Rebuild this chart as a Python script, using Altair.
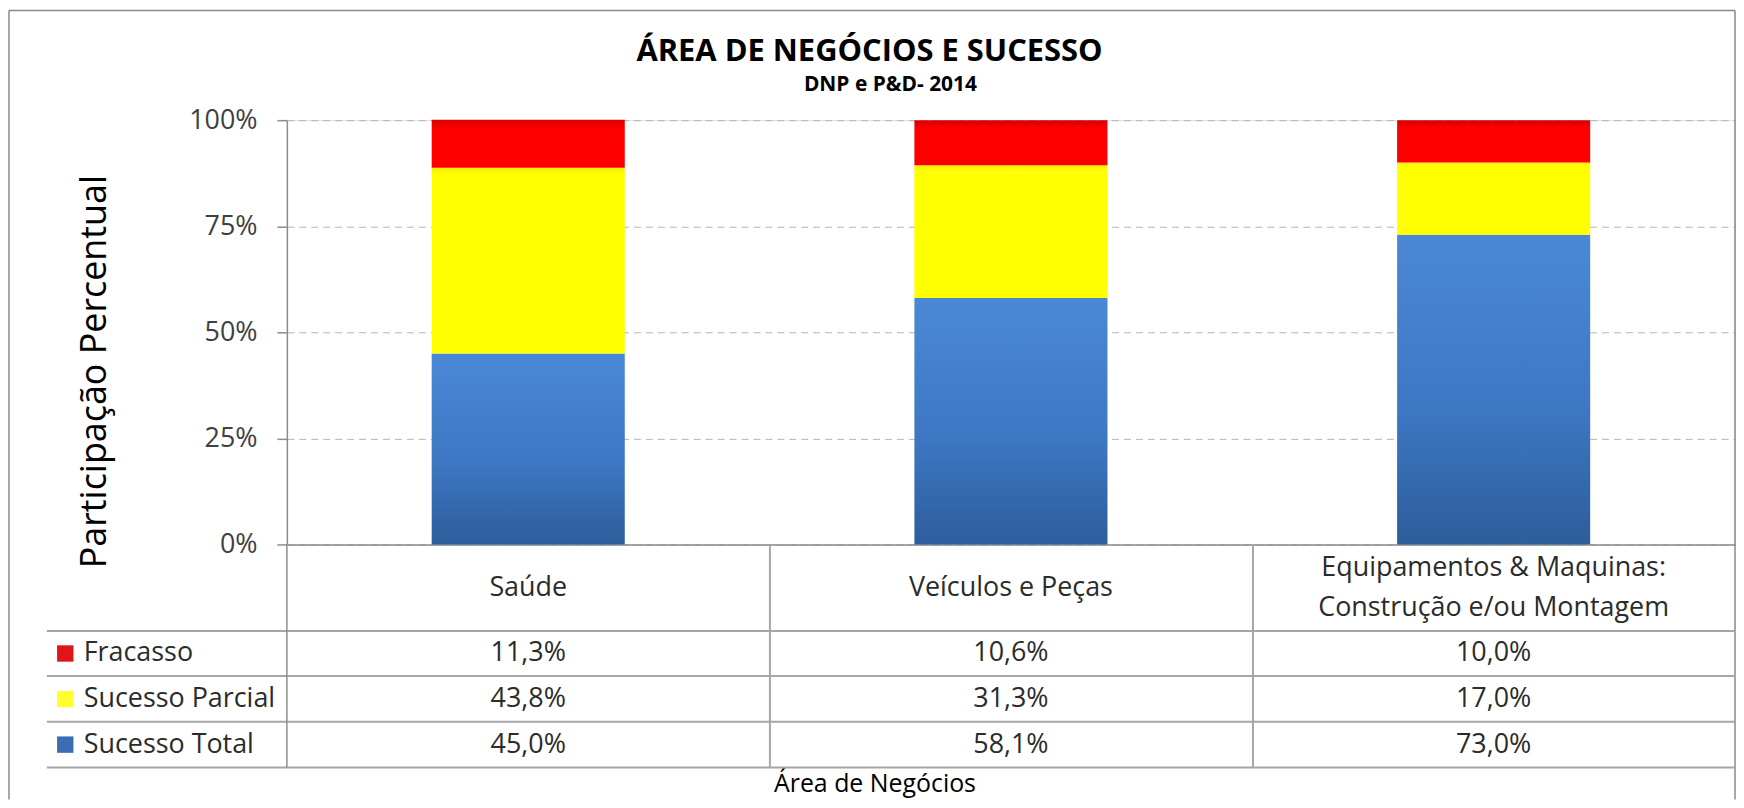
import altair as alt
import pandas as pd

# ---------------- data ----------------
title_text = "ÁREA DE NEGÓCIOS E SUCESSO"
subtitle_text = "DNP e P&D- 2014"
categories = ["Saúde", "Veículos e Peças", "Equipamentos & Maquinas:\nConstrução e/ou Montagem"]
series = ["Fracasso", "Sucesso Parcial", "Sucesso Total"]
fracasso = [11.3, 10.6, 10.0]
sucesso_parcial = [43.8, 31.3, 17.0]
sucesso_total = [45.0, 58.1, 73.0]
y_ticks = [0, 25, 50, 75, 100]

stack_order = {"Sucesso Total": 0, "Sucesso Parcial": 1, "Fracasso": 2}
records = []
for name, vals in [("Sucesso Total", sucesso_total), ("Sucesso Parcial", sucesso_parcial), ("Fracasso", fracasso)]:
    for c, v in zip(categories, vals):
        records.append({"cat": c, "series": name, "value": v, "order": stack_order[name]})
df = pd.DataFrame(records)
series_df = pd.DataFrame({"series": series})
cat_df = pd.DataFrame({"cat": categories})
one = pd.DataFrame({"k": [0]})

# ---------------- layout (pixels relative to the plot area) ----------------
W, H = 1454, 426
FONT = "Open Sans"
TXT = "#2b2b2b"
LINE = "#a6a6a6"
BORDER = "#8a8a8a"
border_left, border_right, border_top, border_bottom = -279, 1454, -110, 682
table_left = -241
h_lines = [513, 558, 604, 650]
v_lines = [0, 485, 970]
table_bottom = 650
row_centers = [535.5, 627]
header_center = 469.5
header_line_h = 40
swatch_x = -222.5
legend_text_x = -204
title_pos = (585, -68)
subtitle_pos = (606, -35)

xscale = alt.Scale(paddingInner=0.6, paddingOuter=0.3)
yscale = alt.Scale(domain=[0, 100], nice=False)
row_scale = alt.Scale(type="point", domain=series, range=row_centers, padding=0)

xaxis = alt.Axis(labels=False, ticks=False, grid=False, domain=True,
                 domainColor="#8c8c8c", domainWidth=1.5,
                 title="Área de Negócios", titleFont=FONT, titleFontSize=25,
                 titleFontWeight="normal", titleColor="#000000",
                 titleX=590, titleY=240, titleAlign="center", titleBaseline="middle")
yaxis = alt.Axis(values=y_ticks, labelExpr="datum.value + '%'",
                 title="Participação Percentual", titleFont=FONT, titleFontSize=36,
                 titleFontWeight="normal", titleColor="#000000", titleAngle=270,
                 titleX=-174, titleY=252, titleAlign="center", titleBaseline="bottom",
                 labelFont=FONT, labelFontSize=27, labelColor="#404040", labelPadding=20,
                 tickSize=10, tickColor="#8c8c8c", tickWidth=1.5,
                 domainColor="#8c8c8c", domainWidth=1.5,
                 grid=True, gridColor="#b4b4b4", gridDash=[7, 5], gridWidth=1)

fills = {
    "Sucesso Total": alt.Gradient(gradient="linear", x1=0, x2=0, y1=0, y2=1, stops=[
        alt.GradientStop(color="#4a88d6", offset=0),
        alt.GradientStop(color="#3e78c4", offset=0.55),
        alt.GradientStop(color="#2d5d9c", offset=1)]),
    "Sucesso Parcial": alt.Gradient(gradient="linear", x1=0, x2=0, y1=0, y2=1, stops=[
        alt.GradientStop(color="#f4ec00", offset=0),
        alt.GradientStop(color="#ffff00", offset=0.04),
        alt.GradientStop(color="#ffff00", offset=1)]),
    "Fracasso": alt.Gradient(gradient="linear", x1=0, x2=0, y1=0, y2=1, stops=[
        alt.GradientStop(color="#d80000", offset=0),
        alt.GradientStop(color="#ff0000", offset=0.2),
        alt.GradientStop(color="#ff0000", offset=1)]),
}
swatch_colors = ["#e01515", "#ffff30", "#3a6db2"]

def xenc():
    return alt.X("cat:N", sort=categories, scale=xscale, axis=xaxis)

base = alt.Chart(df).transform_stack(
    stack="value", groupby=["cat"], as_=["y0", "y1"],
    sort=[alt.SortField("order", order="ascending")])

bar_layers = []
for name in ["Sucesso Total", "Sucesso Parcial", "Fracasso"]:
    bar_layers.append(
        base.transform_filter(alt.datum.series == name)
        .mark_bar(fill=fills[name])
        .encode(
            x=xenc(),
            y=alt.Y("y0:Q", scale=yscale, axis=yaxis),
            y2="y1:Q",
        )
    )
bars = alt.layer(*bar_layers)

values_text = alt.Chart(df).transform_calculate(
    label="replace(format(datum.value, '.1f'), '.', ',') + '%'"
).mark_text(font=FONT, fontSize=27, color=TXT, baseline="middle", align="center").encode(
    x=xenc(),
    y=alt.Y("series:N", scale=row_scale, axis=None),
    text="label:N",
)
swatches = alt.Chart(series_df).mark_square(size=270, opacity=1, filled=True).encode(
    x=alt.value(swatch_x),
    y=alt.Y("series:N", scale=row_scale, axis=None),
    color=alt.Color("series:N", scale=alt.Scale(domain=series, range=swatch_colors), legend=None),
)
legend_text = alt.Chart(series_df).mark_text(
    font=FONT, fontSize=27, color=TXT, align="left", baseline="middle").encode(
    x=alt.value(legend_text_x),
    y=alt.Y("series:N", scale=row_scale, axis=None),
    text="series:N",
)
table = alt.layer(values_text, swatches, legend_text)

header_single = alt.Chart(cat_df).transform_filter(
    "indexof(datum.cat, '\\n') < 0"
).mark_text(font=FONT, fontSize=27, color=TXT, align="center", baseline="middle").encode(
    x=xenc(),
    y=alt.value(header_center),
    text="cat:N",
)
header_double = alt.Chart(cat_df).transform_filter(
    "indexof(datum.cat, '\\n') >= 0"
).mark_text(font=FONT, fontSize=27, color=TXT, align="center", baseline="middle",
            lineBreak="\n", lineHeight=header_line_h).encode(
    x=xenc(),
    y=alt.value(header_center - header_line_h / 2),
    text="cat:N",
)

title_mark = alt.Chart(one).mark_text(
    text=title_text, font=FONT, fontSize=31, fontWeight="bold", color="#000000",
    align="center", baseline="middle").encode(
    x=alt.value(title_pos[0]), y=alt.value(title_pos[1]))
subtitle_mark = alt.Chart(one).mark_text(
    text=subtitle_text, font=FONT, fontSize=21, fontWeight="bold", color="#000000",
    align="center", baseline="middle").encode(
    x=alt.value(subtitle_pos[0]), y=alt.value(subtitle_pos[1]))

# outer frame (top, left and right edges; the bottom edge lies outside the picture)
frame = [
    alt.Chart(one).mark_rule(color=BORDER, strokeWidth=1.5).encode(
        x=alt.value(border_left), x2=alt.value(border_right), y=alt.value(border_top)),
    alt.Chart(one).mark_rule(color=BORDER, strokeWidth=1.5).encode(
        x=alt.value(border_left), y=alt.value(border_top), y2=alt.value(border_bottom)),
    alt.Chart(one).mark_rule(color=BORDER, strokeWidth=1.5).encode(
        x=alt.value(border_right), y=alt.value(border_top), y2=alt.value(border_bottom)),
]

rules = []
for yy in h_lines:
    rules.append(alt.Chart(one).mark_rule(color=LINE, strokeWidth=2).encode(
        x=alt.value(table_left), x2=alt.value(W), y=alt.value(yy)))
for xx in v_lines:
    rules.append(alt.Chart(one).mark_rule(color=LINE if xx else "#8c8c8c", strokeWidth=2 if xx else 1.5).encode(
        x=alt.value(xx), y=alt.value(H), y2=alt.value(table_bottom)))

chart = alt.layer(
    *frame, bars, table, header_single, header_double, title_mark, subtitle_mark, *rules
).resolve_scale(
    y="independent"
).properties(
    width=W, height=H, padding=0,
).configure_view(stroke=None).configure(background="white")

chart.save("out.html", embed_options={"renderer": "svg", "actions": False})
